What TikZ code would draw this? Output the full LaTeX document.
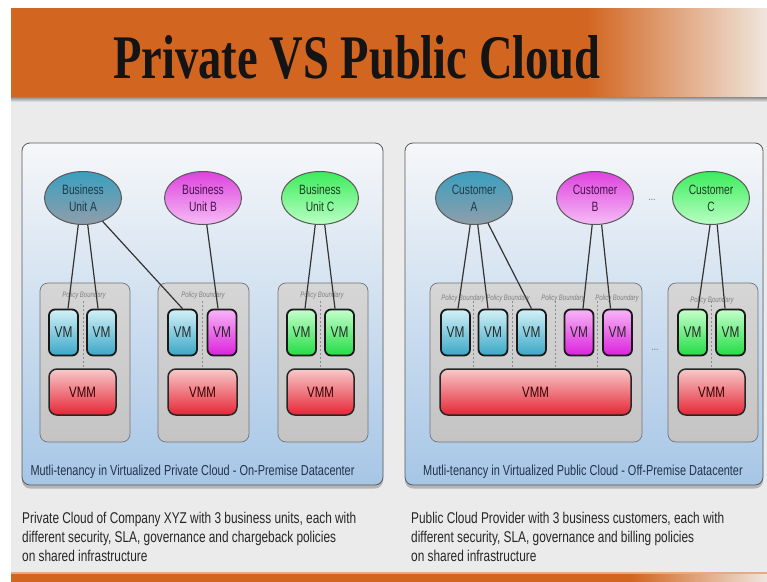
\documentclass[tikz,border=0pt]{standalone}
\usepackage{fontspec}
\setmainfont{Liberation Serif}
\newfontfamily\nsans[FakeStretch=0.76]{Liberation Sans}
\newfontfamily\tfont[FakeStretch=0.75]{Liberation Serif}
\usetikzlibrary{shapes.geometric,shadows,calc}
\definecolor{orng}{HTML}{D2651F}
\definecolor{orngL}{HTML}{EFE6DE}
\definecolor{bodyg}{HTML}{EBEBEB}
\definecolor{panT}{HTML}{F6F7F9}
\definecolor{panB}{HTML}{A6C6E6}
\definecolor{grT}{HTML}{D6D6D6}
\definecolor{grB}{HTML}{C4C4C4}
\definecolor{cyT}{HTML}{D2F1F7}
\definecolor{cyB}{HTML}{3AA7C7}
\definecolor{mgT}{HTML}{F7B4F7}
\definecolor{mgB}{HTML}{DC22DC}
\definecolor{gnT}{HTML}{C4FFCB}
\definecolor{gnB}{HTML}{22DC44}
\definecolor{rdT}{HTML}{F7CACA}
\definecolor{rdB}{HTML}{E62636}
\definecolor{eAT}{HTML}{3A9FBF}
\definecolor{eAB}{HTML}{909EAA}
\definecolor{eBT}{HTML}{DE42DE}
\definecolor{eBB}{HTML}{F6BCF6}
\definecolor{eCT}{HTML}{3CEC5C}
\definecolor{eCB}{HTML}{BAFFC4}
\definecolor{tA}{HTML}{1C3A4E}
\definecolor{tB}{HTML}{4A124E}
\definecolor{tC}{HTML}{183F20}
\definecolor{capc}{HTML}{22324A}
\pgfdeclarehorizontalshading{topfade}{100bp}{color(0bp)=(orng); color(63bp)=(orng); color(75bp)=(orngL); color(100bp)=(orngL)}
\pgfdeclarehorizontalshading{botfade}{100bp}{color(0bp)=(orng); color(66bp)=(orng); color(75bp)=(orngL); color(100bp)=(orngL)}
\begin{document}
\begin{tikzpicture}[x=1pt,y=-1pt,
  panel/.style={draw=black!65, line width=0.8pt, rounded corners=8pt, top color=panT, bottom color=panB,
    drop shadow={opacity=0.5, shadow xshift=0pt, shadow yshift=-3.5pt}, inner sep=0pt},
  pbox/.style={draw=black!55, line width=0.7pt, rounded corners=8pt, top color=grT, bottom color=grB,
    minimum height=159pt, inner sep=0pt},
  vm/.style={draw=black!90, line width=1.8pt, rounded corners=6pt, minimum width=29pt, minimum height=46pt,
    inner sep=0pt, font=\nsans\fontsize{15.6}{17}\selectfont, text=black!85},
  vcyan/.style={vm, top color=cyT, bottom color=cyB},
  vmag/.style={vm, top color=mgT, bottom color=mgB},
  vgrn/.style={vm, top color=gnT, bottom color=gnB},
  vmm/.style={draw=black!85, line width=1.5pt, rounded corners=8pt, minimum height=46pt, inner sep=0pt,
    top color=rdT, bottom color=rdB, font=\nsans\fontsize{15.1}{17}\selectfont, text=black!80!red},
  unit/.style={ellipse, draw=black!65, line width=1pt, minimum width=77pt, minimum height=53pt, inner sep=0pt,
    align=center, font=\nsans\fontsize{13.5}{17}\selectfont},
  uA/.style={unit, top color=eAT, bottom color=eAB, text=tA},
  uB/.style={unit, top color=eBT, bottom color=eBB, text=tB},
  uC/.style={unit, top color=eCT, bottom color=eCB, text=tC},
  link/.style={draw=black!80, line width=1.2pt},
  pbline/.style={draw=black!45, line width=1pt, dash pattern=on 2pt off 2pt},
  pbl/.style={font=\nsans\itshape\fontsize{7.9}{8}\selectfont, text=black!50},
  capt/.style={font=\nsans\fontsize{14.4}{16}\selectfont, text=capc},
  desc/.style={font=\nsans\fontsize{15.6}{18}\selectfont, text=black!85, anchor=base west, inner sep=0pt},
  dots/.style={font=\nsans\fontsize{11}{12}\selectfont, text=black!55},
]
\useasboundingbox (0,0) rectangle (767,581);
\fill[white] (0,0) rectangle (767,581);
% body and banners
\fill[bodyg] (11,97) rectangle (767,572);
\shade[shading=topfade] (11,8) rectangle (767,97);
\shade[top color=black!45, bottom color=bodyg] (11,97) rectangle (767,102);
\shade[shading=botfade] (11,573) rectangle (767,581);
\fill[orng!55!white] (11,572) rectangle (767,573.5);
\node[font=\tfont\bfseries\fontsize{62}{62}\selectfont, anchor=base, text=black!92, inner sep=0pt] (title) at (357,78) {Private VS Public Cloud};

% panels
\node[panel, minimum width=361pt, minimum height=342pt] (lp) at (202.5,314) {};
\node[panel, minimum width=358pt, minimum height=342pt] (rp) at (584,314) {};

% policy boxes
\node[pbox, minimum width=90pt] (lb1) at (85,362.5) {};
\node[pbox, minimum width=91pt] (lb2) at (203.5,362.5) {};
\node[pbox, minimum width=90pt] (lb3) at (323,362.5) {};
\node[pbox, minimum width=212pt] (rb1) at (536,362.5) {};
\node[pbox, minimum width=90pt] (rb2) at (713,362.5) {};

% policy labels
\node[pbl] (pl1) at (84,295) {Policy Boundary};
\node[pbl] (pl2) at (203,295) {Policy Boundary};
\node[pbl] (pl3) at (322,295) {Policy Boundary};
\node[pbl] (pr1) at (463,298) {Policy Boundary};
\node[pbl] (pr2) at (508,298) {Policy Boundary};
\node[pbl] (pr3) at (563,298) {Policy Boundary};
\node[pbl] (pr4) at (617,298) {Policy Boundary};
\node[pbl] (pr5) at (712,300) {Policy Boundary};

% ellipses
\node[uA] (bua) at (83,198) {Business\\Unit A};
\node[uB] (bub) at (203,198) {Business\\Unit B};
\node[uC] (buc) at (320,198) {Business\\Unit C};
\node[uA] (cua) at (474,198) {Customer\\A};
\node[uB] (cub) at (595,198) {Customer\\B};
\node[uC] (cuc) at (711,198) {Customer\\C};
\node[dots] (dt1) at (652,200) {...};
\node[dots] (dt2) at (655,350) {...};

% VMMs
\node[vmm, minimum width=67pt] (l1m) at (82.5,392) {VMM};
\node[vmm, minimum width=69pt] (l2m) at (202.5,392) {VMM};
\node[vmm, minimum width=67pt] (l3m) at (320.5,392) {VMM};
\node[vmm, minimum width=191pt] (r1m) at (535.5,392) {VMM};
\node[vmm, minimum width=67pt] (r2m) at (711.5,392) {VMM};

% dotted boundaries
\foreach \n/\x in {d1/83, d2/202, d3/320.5, d4/473, d5/512, d6/555, d7/597, d8/711.5}
  \coordinate (\n) at (\x,301);
\foreach \n/\m in {d1/l1m, d2/l2m, d3/l3m, d4/r1m, d5/r1m, d6/r1m, d7/r1m, d8/r2m}
  \draw[pbline] (\n) -- (\n |- \m.north);

% VMs
\node[vcyan] (l1a) at (63.5,332.5) {VM};
\node[vcyan] (l1b) at (101.5,332.5) {VM};
\node[vcyan] (l2a) at (182.5,332.5) {VM};
\node[vmag]  (l2b) at (222,332.5) {VM};
\node[vgrn]  (l3a) at (301.5,332.5) {VM};
\node[vgrn]  (l3b) at (339.5,332.5) {VM};
\node[vcyan] (r1a) at (455.5,332.5) {VM};
\node[vcyan] (r1b) at (493,332.5) {VM};
\node[vcyan] (r1c) at (531.5,332.5) {VM};
\node[vmag]  (r1d) at (579,332.5) {VM};
\node[vmag]  (r1e) at (617.5,332.5) {VM};
\node[vgrn]  (r2a) at (692.5,332.5) {VM};
\node[vgrn]  (r2b) at (730.5,332.5) {VM};

% links
\draw[link] (bua.260) -- ($(l1a.north)+(4.5,0)$);
\draw[link] (bua.280) -- ($(l1b.north)+(-3.5,0)$);
\draw[link] (bua.310) -- (l2a.north);
\draw[link] (bub.278) -- ($(l2b.north)+(-4,0)$);
\draw[link] (buc.260) -- ($(l3a.north)+(3.5,0)$);
\draw[link] (buc.280) -- ($(l3b.north)+(-4.5,0)$);
\draw[link] (cua.262) -- ($(r1a.north)+(2.5,0)$);
\draw[link] (cua.278) -- ($(r1b.north)+(-5,0)$);
\draw[link] (cua.299) -- (r1c.north);
\draw[link] (cub.264) -- ($(r1d.north)+(4,0)$);
\draw[link] (cub.284) -- ($(r1e.north)+(-7,0)$);
\draw[link] (cuc.268) -- ($(r2a.north)+(5.5,0)$);
\draw[link] (cuc.283) -- ($(r2b.north)+(-5.5,0)$);

% captions
\node[capt] (lcap) at (192.5,472) {Mutli-tenancy in Virtualized Private Cloud - On-Premise Datacenter};
\node[capt] (rcap) at (583,472) {Mutli-tenancy in Virtualized Public Cloud - Off-Premise Datacenter};

% descriptions
\node[desc] (ld1) at (22,523) {Private Cloud of Company XYZ with 3 business units, each with};
\node[desc] (ld2) at (22,542) {different security, SLA, governance and chargeback policies};
\node[desc] (ld3) at (22,561) {on shared infrastructure};
\node[desc] (rd1) at (411,523) {Public Cloud Provider with 3 business customers, each with};
\node[desc] (rd2) at (411,542) {different security, SLA, governance and billing policies};
\node[desc] (rd3) at (411,561) {on shared infrastructure};
\end{tikzpicture}
\end{document}
